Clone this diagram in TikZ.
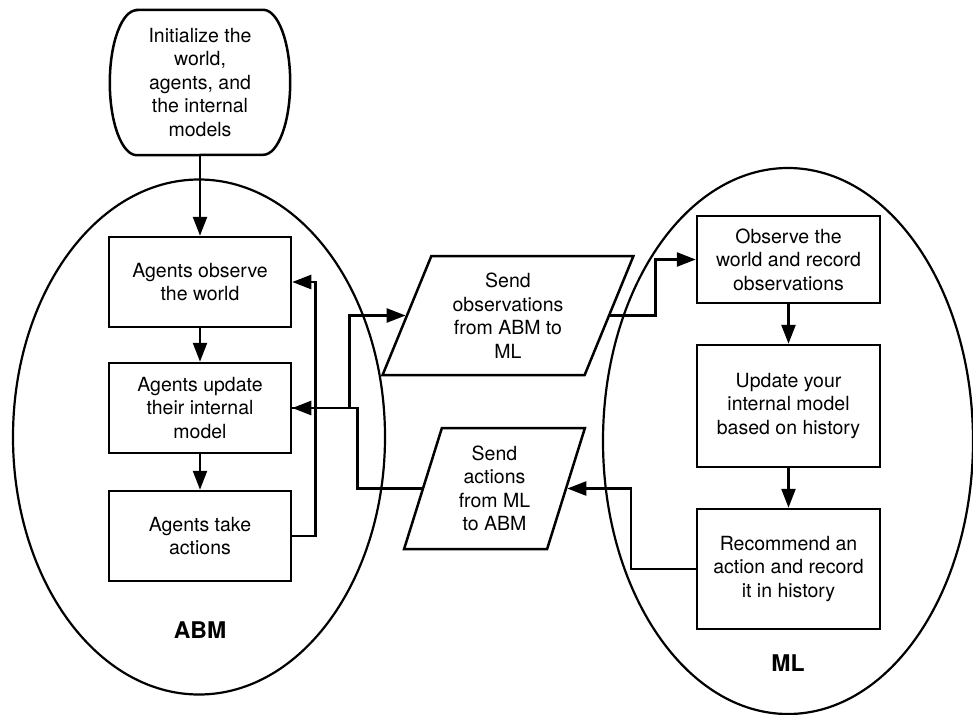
\documentclass[tikz,border=0pt]{standalone}
\usepackage{fontspec}
\setmainfont{TeX Gyre Heros}
\usetikzlibrary{arrows.meta,positioning,shapes.geometric}
\tikzset{
flstep/.style={rectangle,draw,line width=2.5pt,align=center,inner sep=2pt,minimum width=182pt},
flstart/.style={rectangle,align=center,inner sep=2pt,minimum width=180pt,minimum height=145pt},
flstartline/.style={line width=2.5pt},
flio/.style={trapezium,trapezium stretches=true,draw,line width=2.5pt,align=center,inner sep=1pt},
flgroup/.style={ellipse,draw,line width=2.2pt,inner sep=0pt},
flname/.style={font=\fontsize{23}{27}\selectfont\bfseries,inner sep=1pt},
flarr/.style={-{Triangle[length=19pt,width=14pt]},line width=2.5pt}
}
\begin{document}
\begin{tikzpicture}[
x=1pt,
y=-1pt,
every node/.style={font=\fontsize{19.5}{23.5}\selectfont}
]
\useasboundingbox (0,0) rectangle (973,714);
\node[flgroup,minimum width=372pt,minimum height=515pt] (abm) at (199,437) {};
\node[flgroup,minimum width=370pt,minimum height=546pt] (ml) at (788,441) {};
\node[flname] (abmname) at (200,630) {ABM};
\node[flname] (mlname) at (788,663) {ML};
\node[flstart] (init) at (200,82.5) {Initialize the\\world,\\agents, and\\the internal\\models};
\draw[flstartline] ([xshift=27pt]init.north west) -- ([xshift=-27pt]init.north east)
  arc[start angle=90,end angle=-90,x radius=27pt,y radius=72.5pt]
  -- ([xshift=27pt]init.south west)
  arc[start angle=270,end angle=90,x radius=27pt,y radius=72.5pt] -- cycle;
\node[flstep,minimum height=90pt] (observe) at (200,282) {Agents observe\\the world};
\node[flstep,minimum height=90pt] (update) at (200,408) {Agents update\\their internal\\model};
\node[flstep,minimum height=90pt] (act) at (200,536) {Agents take\\actions};
\node[flio,trapezium left angle=67.6,trapezium right angle=112.4,minimum width=251pt,minimum height=119pt]
  (sendobs) at (508,315.5) {Send\\observations\\from ABM to\\ML};
\node[flio,trapezium left angle=73.2,trapezium right angle=106.8,minimum width=181pt,minimum height=121pt]
  (sendact) at (494.5,488.5) {Send\\actions\\from ML\\to ABM};
\node[flstep,minimum width=183pt,minimum height=87pt] (mlobs) at (788.5,259.5) {Observe the\\world and record\\observations};
\node[flstep,minimum width=183pt,minimum height=122pt] (mlupd) at (788.5,406) {Update your\\internal model\\based on history};
\node[flstep,minimum width=183pt,minimum height=120pt] (mlrec) at (788.5,569) {Recommend an\\action and record\\it in history};
\draw[flarr] (init)--(observe);
\draw[flarr] (observe)--(update);
\draw[flarr] (update)--(act);
\draw[flarr] (act.east) -- ++(23,0) |- (observe.east);
\draw[flarr] (update.east) -- ++(57,0) |- (sendobs.west);
\draw[flarr] (sendact.west) -- ++(-64,0) |- (update.east);
\draw[flarr] (sendobs.east) -- ++(45,0) |- (mlobs.west);
\draw[flarr] (mlobs)--(mlupd);
\draw[flarr] (mlupd)--(mlrec);
\draw[flarr] (mlrec.west) -- ++(-65,0) |- (sendact.east);
\end{tikzpicture}
\end{document}
